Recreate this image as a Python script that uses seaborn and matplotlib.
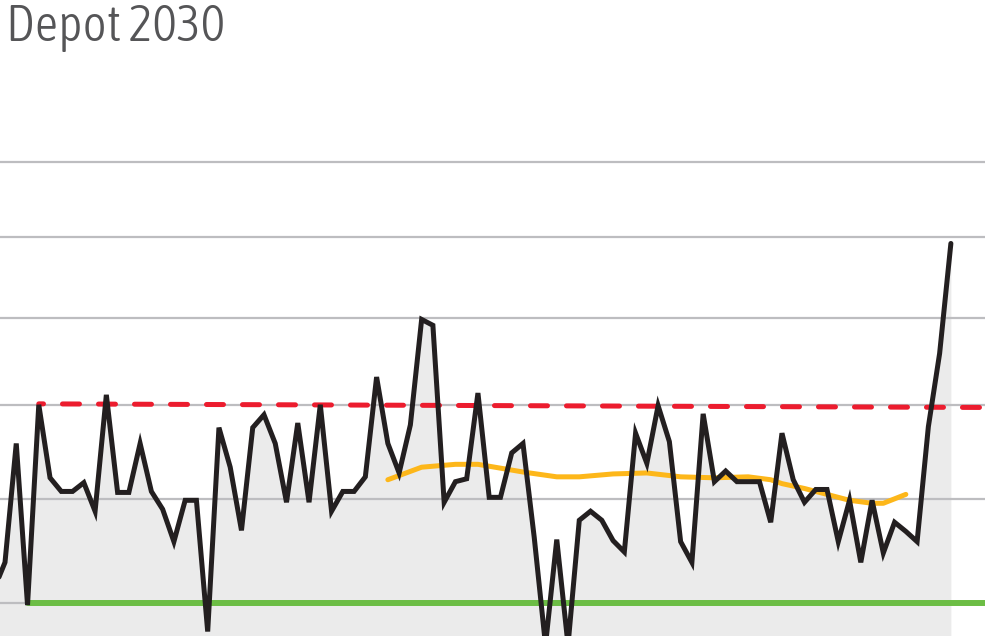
import numpy as np
import pandas as pd
import matplotlib
matplotlib.use('Agg')
import matplotlib.pyplot as plt
from matplotlib import font_manager
import seaborn as sns

# Data (log-scaled value axis, gridlines at 10..15)
title = 'Depot 2030'
grid_levels = [10, 11, 12, 13, 14, 15]

# main series, one value per period (first value sits just off the left edge)
periods = list(range(-1, 85))
values = [10.12, 10.38, 11.58, 9.98, 12.00, 11.22, 11.08, 11.08, 11.17, 10.88,
          12.11, 11.07, 11.07, 11.58, 11.08, 10.90, 10.58, 10.99, 10.99, 9.74,
          11.75, 11.33, 10.69, 11.75, 11.89, 11.58, 10.97, 11.80, 10.97, 12.00,
          10.88, 11.08, 11.08, 11.23, 12.31, 11.58, 11.27, 11.78, 12.98, 12.91,
          10.97, 11.18, 11.21, 12.13, 11.02, 11.02, 11.48, 11.58, 10.62, 9.62,
          10.60, 9.62, 10.79, 10.88, 10.79, 10.59, 10.48, 11.69, 11.37, 11.99,
          11.60, 10.58, 10.38, 11.90, 11.18, 11.29, 11.18, 11.18, 11.18, 10.77,
          11.69, 11.20, 10.97, 11.10, 11.10, 10.58, 10.99, 10.38, 10.99, 10.47,
          10.77, 10.68, 10.58, 11.76, 12.58, 13.92]

# smoothed trend (orange)
trend_periods = [34, 37, 40, 42, 44, 46, 49, 51, 54, 57, 60, 63, 66, 68, 69,
                 71, 73, 75, 77, 78, 80]
trend_values = [11.20, 11.33, 11.36, 11.36, 11.32, 11.28, 11.23, 11.23, 11.26,
                11.27, 11.23, 11.22, 11.23, 11.20, 11.16, 11.11, 11.05, 10.99,
                10.96, 10.96, 11.05]

# upper (red dashed) and lower (green) reference lines
upper_periods = [3, 87.1]
upper_values = [12.01, 11.97]
lower_periods = [2, 87.1]
lower_values = [10.0, 10.0]

df = pd.DataFrame({'period': periods, 'value': values})
trend = pd.DataFrame({'period': trend_periods, 'value': trend_values})
upper = pd.DataFrame({'period': upper_periods, 'value': upper_values})
lower = pd.DataFrame({'period': lower_periods, 'value': lower_values})

sns.set_theme(style='white')
plt.rcParams['font.family'] = ['DejaVu Sans']


def weight_num(w):
    if isinstance(w, (int, float)):
        return int(w)
    return font_manager.weight_dict.get(str(w).lower(), 400)


# pick an upright narrow face for the title if the system has one
narrow = [f for f in font_manager.fontManager.ttflist
          if ('narrow' in f.name.lower() or 'condensed' in f.name.lower()
              or str(f.stretch) in ('condensed', 'semi-condensed',
                                    'extra-condensed', 'ultra-condensed')
              or (isinstance(f.stretch, int) and f.stretch < 500))
          and 'mono' not in f.name.lower()
          and f.style == 'normal'
          and 'italic' not in f.fname.lower()]
title_font = None
if narrow:
    narrow.sort(key=lambda f: (weight_num(f.weight) < 300,
                               abs(weight_num(f.weight) - 300)))
    title_font = font_manager.FontProperties(fname=narrow[0].fname)

fig = plt.figure(figsize=(10, 6.36), dpi=100)
ax = fig.add_axes([0, 0, 0.985, 486 / 636])
ax.set_yscale('log')
ax.set_ylim(9.70, 15.17)
ax.set_xlim(-0.444, 87.03)

# grey area under the series
ax.fill_between(df['period'], df['value'], 9.0, color='#ebebeb', lw=0, zorder=1)

for lvl in grid_levels:
    ax.axhline(lvl, color='#bdbdc0', lw=1.6, zorder=2)

sns.lineplot(data=lower, x='period', y='value', ax=ax, color='#6cbd45',
             linewidth=4.3, solid_capstyle='round', zorder=3)
sns.lineplot(data=upper, x='period', y='value', ax=ax, color='#ec1c2e',
             linewidth=3.6, linestyle=(2.46, (3.4, 3.8)),
             dash_capstyle='round', zorder=3)
sns.lineplot(data=trend, x='period', y='value', ax=ax, color='#fdb71a',
             linewidth=3.6, solid_capstyle='round', zorder=3)
sns.lineplot(data=df, x='period', y='value', ax=ax, color='#231f20',
             linewidth=3.6, solid_joinstyle='miter', solid_capstyle='round',
             zorder=4)

ax.set_xticks([])
ax.set_yticks([])
ax.yaxis.set_minor_locator(matplotlib.ticker.NullLocator())
ax.set_xlabel('')
ax.set_ylabel('')
for s in ax.spines.values():
    s.set_visible(False)
ax.patch.set_alpha(0)

if title_font is not None:
    title_font.set_size(37)
    fig.text(0.006, 0.995, title, ha='left', va='top', color='#555557',
             fontproperties=title_font)
else:
    fig.text(0.006, 0.993, title, ha='left', va='top', fontsize=32,
             color='#555557')

fig.savefig('out.png', dpi=100)
print('saved out.png')
